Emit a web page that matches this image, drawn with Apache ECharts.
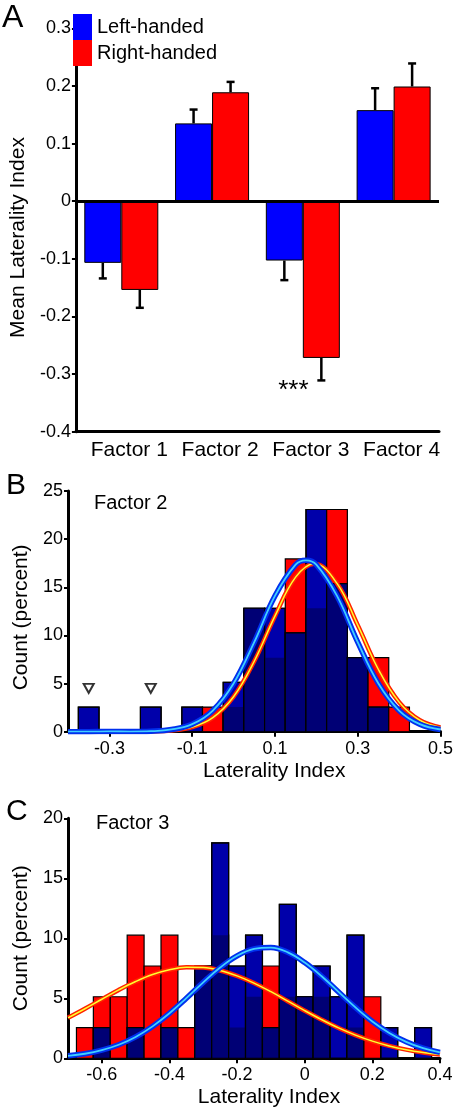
<!DOCTYPE html>
<html><head><meta charset="utf-8">
<script src="https://cdn.jsdelivr.net/npm/echarts@6/dist/echarts.min.js"></script>
<style>html,body{margin:0;padding:0;background:#fff}#c{width:456px;height:1113px}</style>
</head><body><div id="c"></div>
<script>
// ---------- Panel A data ----------
const factors = ['Factor 1', 'Factor 2', 'Factor 3', 'Factor 4'];
const leftMean = [-0.107, 0.135, -0.103, 0.158];
const leftErr = [0.027, 0.024, 0.034, 0.038];
const rightMean = [-0.154, 0.189, -0.272, 0.199];
const rightErr = [0.031, 0.018, 0.039, 0.040];
const sigLabel = '***';

// ---------- Panel B data (Factor 2) ----------
const binWidth = 0.05;
const binsB = [-0.35, -0.3, -0.25, -0.2, -0.15, -0.1, -0.05, 0, 0.05, 0.1, 0.15, 0.2, 0.25, 0.3, 0.35, 0.4, 0.45];
const leftB = [2.56, 0, 0, 2.56, 0, 2.56, 0, 5.13, 12.82, 12.82, 10.26, 23.08, 15.38, 7.69, 2.56, 0, 0];
const rightB = [0, 0, 0, 0, 0, 0, 2.56, 2.56, 12.82, 7.69, 17.95, 12.82, 23.08, 7.69, 7.69, 2.56, 0];
const curveXB = [-0.4, -0.35, -0.3, -0.25, -0.2, -0.15, -0.1, -0.05, 0, 0.05, 0.1, 0.15, 0.175, 0.2, 0.25, 0.3, 0.35, 0.4, 0.45, 0.5];
const curveLeftB = [0, 0, 0.03, 0.01, 0.05, 0.23, 0.78, 2.2, 5.0, 9.3, 14.1, 17.35, 17.8, 17.35, 14.1, 9.3, 5.0, 2.2, 0.78, 0.23];
const curveXB2 = [-0.4, -0.35, -0.3, -0.25, -0.2, -0.15, -0.1, -0.05, 0, 0.05, 0.1, 0.15, 0.195, 0.25, 0.3, 0.35, 0.4, 0.45, 0.5];
const curveRightB = [0, 0, 0, 0, 0.03, 0.13, 0.48, 1.46, 3.63, 7.32, 12.0, 16.05, 17.45, 15.4, 11.07, 6.46, 3.07, 1.19, 0.45];
const outlierX = [-0.35, -0.2];
const outlierY = [4.5, 4.5];
const ticksB = [-0.3, -0.1, 0.1, 0.3, 0.5];

// ---------- Panel C data (Factor 3) ----------
const binsC = [-0.65, -0.6, -0.55, -0.5, -0.45, -0.4, -0.35, -0.3, -0.25, -0.2, -0.15, -0.1, -0.05, 0, 0.05, 0.1, 0.15, 0.2, 0.25, 0.3, 0.35];
const leftC = [0, 2.56, 0, 2.56, 0, 2.56, 0, 7.69, 17.95, 7.69, 10.26, 2.56, 12.82, 5.13, 7.69, 5.13, 10.26, 0, 2.56, 0, 2.56];
const rightC = [2.56, 5.13, 5.13, 10.26, 7.69, 10.26, 2.56, 7.69, 10.26, 2.56, 5.13, 7.69, 5.13, 5.13, 5.13, 0, 2.56, 5.13, 0, 0, 0];
const curveXC = [-0.7, -0.65, -0.6, -0.55, -0.5, -0.45, -0.4, -0.35, -0.3, -0.25, -0.2, -0.15, -0.1, -0.05, 0, 0.05, 0.1, 0.15, 0.2, 0.25, 0.3, 0.35, 0.4];
const curveLeftC = [0.21, 0.38, 0.68, 1.13, 1.78, 2.66, 3.75, 5.01, 6.33, 7.56, 8.54, 9.12, 9.23, 8.83, 7.98, 6.84, 5.53, 4.24, 3.07, 2.11, 1.37, 0.84, 0.49];
const curveRightC = [3.37, 4.13, 4.92, 5.70, 6.40, 6.98, 7.38, 7.58, 7.56, 7.32, 6.87, 6.27, 5.55, 4.76, 3.97, 3.22, 2.53, 1.93, 1.43, 1.03, 0.72, 0.49, 0.32];
const ticksC = [-0.6, -0.4, -0.2, 0, 0.2, 0.4];

// ---------- styles ----------
const FONT = 'Liberation Sans, Arial, sans-serif';
const RED = '#ff0000', BLUE_A = '#0000ff', BLUE_H = '#0000aa', NAVY = '#000075';
const AXW = 3;

const chart = echarts.init(document.getElementById('c'), null, {renderer: 'canvas'});

function histItem(params, api) {
  const x = api.value(0), l = api.value(1), r = api.value(2);
  const h = binWidth / 2;
  const p0 = api.coord([x - h, 0]);
  const p1 = api.coord([x + h, 0]);
  const left = p0[0], w = p1[0] - p0[0], base = p0[1];
  const yl = api.coord([x, l])[1], yr = api.coord([x, r])[1], yo = api.coord([x, Math.min(l, r)])[1];
  const ch = [];
  if (r > 0) ch.push({type: 'rect', shape: {x: left, y: yr, width: w, height: base - yr}, style: {fill: RED, stroke: '#000', lineWidth: 1.2}});
  if (l > 0) ch.push({type: 'rect', shape: {x: left, y: yl, width: w, height: base - yl}, style: {fill: BLUE_H, stroke: '#000', lineWidth: 1.2}});
  if (Math.min(l, r) > 0) ch.push({type: 'rect', shape: {x: left, y: yo, width: w, height: base - yo}, style: {fill: NAVY}});
  if (l > 0) ch.push({type: 'rect', shape: {x: left, y: yl, width: w, height: base - yl}, style: {fill: 'none', stroke: '#000', lineWidth: 1.2}});
  return {type: 'group', children: ch};
}

const BARW = 37;
function errItem(params, api) {
  const i = api.value(0), v = api.value(1), e = api.value(2), side = api.value(3);
  const end = v + (v < 0 ? -e : e);
  const a = api.coord([i, v]);
  const b = api.coord([i, end]);
  const x = a[0] + side * BARW / 2;
  return {type: 'group', children: [
    {type: 'line', shape: {x1: x, y1: a[1], x2: x, y2: b[1]}, style: {stroke: '#000', lineWidth: 2.5}},
    {type: 'line', shape: {x1: x - 4, y1: b[1], x2: x + 4, y2: b[1]}, style: {stroke: '#000', lineWidth: 2.5}}
  ]};
}

function curve(name, xs, ys, xi, color, width, z) {
  return {name: name, type: 'line', xAxisIndex: xi, yAxisIndex: xi, data: xs.map((x, i) => [x, ys[i]]),
    showSymbol: false, smooth: 0.4, silent: true, z: z, clip: true,
    lineStyle: {color: color, width: width}};
}

const rightData = rightMean.map((v, i) => i === 2 ? {value: v, label: {show: true, formatter: sigLabel, position: 'bottom', distance: 20, offset: [-28, 0], fontSize: 26, color: '#000', fontFamily: FONT}} : v);

const valueTick = {show: true, length: 4, lineStyle: {color: '#000', width: 2}};
const axLine = {show: true, onZero: false, lineStyle: {color: '#000', width: AXW}};
const lbl = {color: '#000', fontSize: 18, fontFamily: FONT};

chart.setOption({
  animation: false,
  textStyle: {fontFamily: FONT},
  title: [
    {text: 'A', left: 2, top: 2, padding: 0, textStyle: {fontSize: 32, fontWeight: 'normal', color: '#000', fontFamily: FONT}},
    {text: 'B', left: 6, top: 471, padding: 0, textStyle: {fontSize: 30, fontWeight: 'normal', color: '#000', fontFamily: FONT}},
    {text: 'C', left: 6, top: 797, padding: 0, textStyle: {fontSize: 30, fontWeight: 'normal', color: '#000', fontFamily: FONT}},
    {text: 'Factor 2', left: 94, top: 493, padding: 0, textStyle: {fontSize: 20, fontWeight: 'normal', color: '#000', fontFamily: FONT}},
    {text: 'Factor 3', left: 96, top: 813, padding: 0, textStyle: {fontSize: 20, fontWeight: 'normal', color: '#000', fontFamily: FONT}}
  ],
  legend: {data: ['Left-handed', 'Right-handed'], orient: 'vertical', left: 73, top: 14, padding: 0,
    itemWidth: 19, itemHeight: 26, itemGap: 0, icon: 'rect', selectedMode: false,
    itemStyle: {borderWidth: 0}, textStyle: {fontSize: 20, color: '#000', fontFamily: FONT}},
  grid: [
    {left: 68, right: 17, top: 28.3, bottom: 681.3},
    {left: 68, right: 15, top: 491, bottom: 381.3},
    {left: 68, right: 16, top: 818.3, bottom: 54.7}
  ],
  xAxis: [
    {type: 'category', gridIndex: 0, data: factors, axisLine: axLine, axisTick: {show: false},
      axisLabel: {interval: 0, hideOverlap: false, color: '#000', fontSize: 21, fontFamily: FONT, margin: 8, padding: [0, 0, 0, 16]}},
    {type: 'value', gridIndex: 1, min: -0.4, max: 0.5, axisLine: axLine, splitLine: {show: false},
      axisTick: {show: true, length: 5, customValues: ticksB, lineStyle: {color: '#000', width: 2}},
      axisLabel: Object.assign({customValues: ticksB, margin: 8}, lbl),
      name: 'Laterality Index', nameLocation: 'middle', nameGap: 29,
      nameTextStyle: {fontSize: 21, color: '#000', fontFamily: FONT, padding: [0, 0, 0, 40]}},
    {type: 'value', gridIndex: 2, min: -0.7, max: 0.4, axisLine: axLine, splitLine: {show: false},
      axisTick: {show: true, length: 5, customValues: ticksC, lineStyle: {color: '#000', width: 2}},
      axisLabel: Object.assign({customValues: ticksC, margin: 8}, lbl),
      name: 'Laterality Index', nameLocation: 'middle', nameGap: 28,
      nameTextStyle: {fontSize: 21, color: '#000', fontFamily: FONT, padding: [0, 0, 0, 30]}}
  ],
  yAxis: [
    {type: 'value', gridIndex: 0, min: -0.4, max: 0.3, interval: 0.1, axisLine: axLine, axisTick: valueTick,
      splitLine: {show: false}, axisLabel: Object.assign({margin: 5}, lbl),
      name: 'Mean Laterality Index', nameLocation: 'middle', nameGap: 42,
      nameTextStyle: {fontSize: 21, color: '#000', fontFamily: FONT, padding: [0, 15, 0, 0]}},
    {type: 'value', gridIndex: 1, min: 0, max: 25, interval: 5, axisLine: axLine, axisTick: valueTick,
      splitLine: {show: false}, axisLabel: Object.assign({margin: 5}, lbl),
      name: 'Count (percent)', nameLocation: 'middle', nameGap: 33,
      nameTextStyle: {fontSize: 21, color: '#000', fontFamily: FONT, padding: [0, 12, 0, 0]}},
    {type: 'value', gridIndex: 2, min: 0, max: 20, interval: 5, axisLine: axLine, axisTick: valueTick,
      splitLine: {show: false}, axisLabel: Object.assign({margin: 5}, lbl),
      name: 'Count (percent)', nameLocation: 'middle', nameGap: 33,
      nameTextStyle: {fontSize: 21, color: '#000', fontFamily: FONT}}
  ],
  series: [
    {name: 'Left-handed', type: 'bar', xAxisIndex: 0, yAxisIndex: 0, data: leftMean, barWidth: BARW, barGap: '0%',
      itemStyle: {color: BLUE_A, borderColor: '#000', borderWidth: 1},
      markLine: {silent: true, symbol: 'none', label: {show: false}, data: [{yAxis: 0}],
        lineStyle: {color: '#000', width: AXW, type: 'solid'}}},
    {name: 'Right-handed', type: 'bar', xAxisIndex: 0, yAxisIndex: 0, data: rightData, barWidth: BARW,
      itemStyle: {color: RED, borderColor: '#000', borderWidth: 1}},
    {name: 'errL', type: 'custom', xAxisIndex: 0, yAxisIndex: 0, renderItem: errItem, z: 5,
      data: leftMean.map((v, i) => [i, v, leftErr[i], -1])},
    {name: 'errR', type: 'custom', xAxisIndex: 0, yAxisIndex: 0, renderItem: errItem, z: 5,
      data: rightMean.map((v, i) => [i, v, rightErr[i], 1])},
    // Panel B
    {name: 'histB', type: 'custom', xAxisIndex: 1, yAxisIndex: 1, renderItem: histItem, clip: true,
      data: binsB.map((c, i) => [c, leftB[i], rightB[i]])},
    curve('rB1', curveXB2, curveRightB, 1, '#ff2200', 4.5, 3),
    curve('rB2', curveXB2, curveRightB, 1, '#ffff30', 1.5, 4),
    curve('lB1', curveXB, curveLeftB, 1, '#0030ee', 5.5, 5),
    curve('lB2', curveXB, curveLeftB, 1, '#40d0ff', 1.8, 6),
    {name: 'outliers', type: 'scatter', xAxisIndex: 1, yAxisIndex: 1, data: outlierX.map((x, i) => [x, outlierY[i]]),
      symbol: 'path://M0,0 L10,0 L5,9 Z', symbolSize: [10, 9],
      itemStyle: {color: '#fff', borderColor: '#000', borderWidth: 2}},
    // Panel C
    {name: 'histC', type: 'custom', xAxisIndex: 2, yAxisIndex: 2, renderItem: histItem, clip: true,
      data: binsC.map((c, i) => [c, leftC[i], rightC[i]])},
    curve('rC1', curveXC, curveRightC, 2, '#ff2200', 4.5, 3),
    curve('rC2', curveXC, curveRightC, 2, '#ffff30', 1.5, 4),
    curve('lC1', curveXC, curveLeftC, 2, '#0030ee', 5.5, 5),
    curve('lC2', curveXC, curveLeftC, 2, '#40d0ff', 1.8, 6)
  ]
});
</script></body></html>
